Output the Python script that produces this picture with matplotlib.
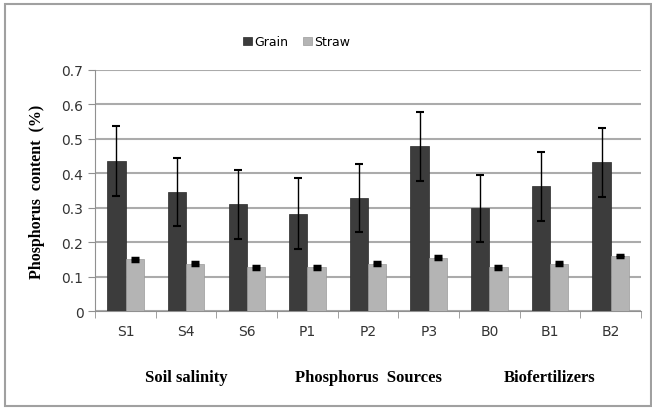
import matplotlib.pyplot as plt
import numpy as np
from matplotlib.patches import Rectangle

labels = ['S1', 'S4', 'S6', 'P1', 'P2', 'P3', 'B0', 'B1', 'B2']
grain = [0.435, 0.345, 0.31, 0.283, 0.328, 0.478, 0.298, 0.362, 0.432]
grain_err = [0.102, 0.098, 0.1, 0.102, 0.098, 0.1, 0.098, 0.1, 0.1]
straw = [0.15, 0.137, 0.127, 0.127, 0.137, 0.155, 0.127, 0.137, 0.16]
straw_err = [0.004, 0.004, 0.004, 0.004, 0.004, 0.004, 0.004, 0.004, 0.004]
groups = ['Soil salinity', 'Phosphorus  Sources', 'Biofertilizers']
group_pos = [1, 4, 7]

fig = plt.figure(figsize=(6.52, 4.10), dpi=100)
ax = fig.add_axes([0.146, 0.239, 0.837, 0.588])

x = np.arange(len(labels))
w = 0.3
ax.bar(x - w / 2, grain, w, color='#3c3c3c', edgecolor='#2a2a2a', linewidth=0.5,
       label='Grain', zorder=3)
ax.bar(x + w / 2, straw, w, color='#b4b4b4', edgecolor='#9a9a9a', linewidth=0.5,
       label='Straw', zorder=3)
ax.errorbar(x - w / 2, grain, yerr=grain_err, fmt='none', ecolor='black',
            elinewidth=1, capsize=3, capthick=1.5, zorder=4)
ax.errorbar(x + w / 2, straw, yerr=straw_err, fmt='none', ecolor='black',
            elinewidth=1, capsize=3, capthick=2.5, zorder=4)

ax.set_xlim(-0.5, len(labels) - 0.5)
ax.set_ylim(0, 0.7)
ax.set_yticks(np.arange(0, 0.71, 0.1))
ax.set_yticklabels(['0'] + ['%.1f' % v for v in np.arange(0.1, 0.71, 0.1)])
ax.yaxis.grid(True, color='#ababab', linewidth=1.5, zorder=0)
ax.set_axisbelow(True)

ax.set_xticks(x)
ax.set_xticklabels(labels)
ax.set_xticks(np.arange(-0.5, len(labels), 1), minor=True)
ax.tick_params(axis='x', which='major', length=0, pad=9)
ax.tick_params(axis='x', which='minor', length=5, color='#909090', direction='out')
ax.tick_params(axis='y', length=5, color='#909090', direction='out')
ax.tick_params(labelsize=10, labelcolor='#333333')

for s in ['top', 'right']:
    ax.spines[s].set_visible(False)
ax.spines['left'].set_color('#909090')
ax.spines['bottom'].set_color('#909090')

ax.set_ylabel('Phosphorus  content  (%)', family='Liberation Serif',
              fontweight='bold', fontsize=11.5, labelpad=12)

for g, p in zip(groups, group_pos):
    ax.text(p, -0.275, g, transform=ax.get_xaxis_transform(), ha='center',
            va='center', family='Liberation Serif', fontweight='bold', fontsize=12)

ax.legend(loc='upper left', bbox_to_anchor=(0.25, 1.19), ncol=2, frameon=False,
          fontsize=9, handlelength=0.7, handleheight=0.7, handletextpad=0.2,
          columnspacing=1.2)

fig.patches.append(Rectangle((0.008, 0.008), 0.99, 0.98, transform=fig.transFigure,
                             fill=False, edgecolor='#a0a0a0', linewidth=1.5))

fig.savefig('out.png', dpi=100)
